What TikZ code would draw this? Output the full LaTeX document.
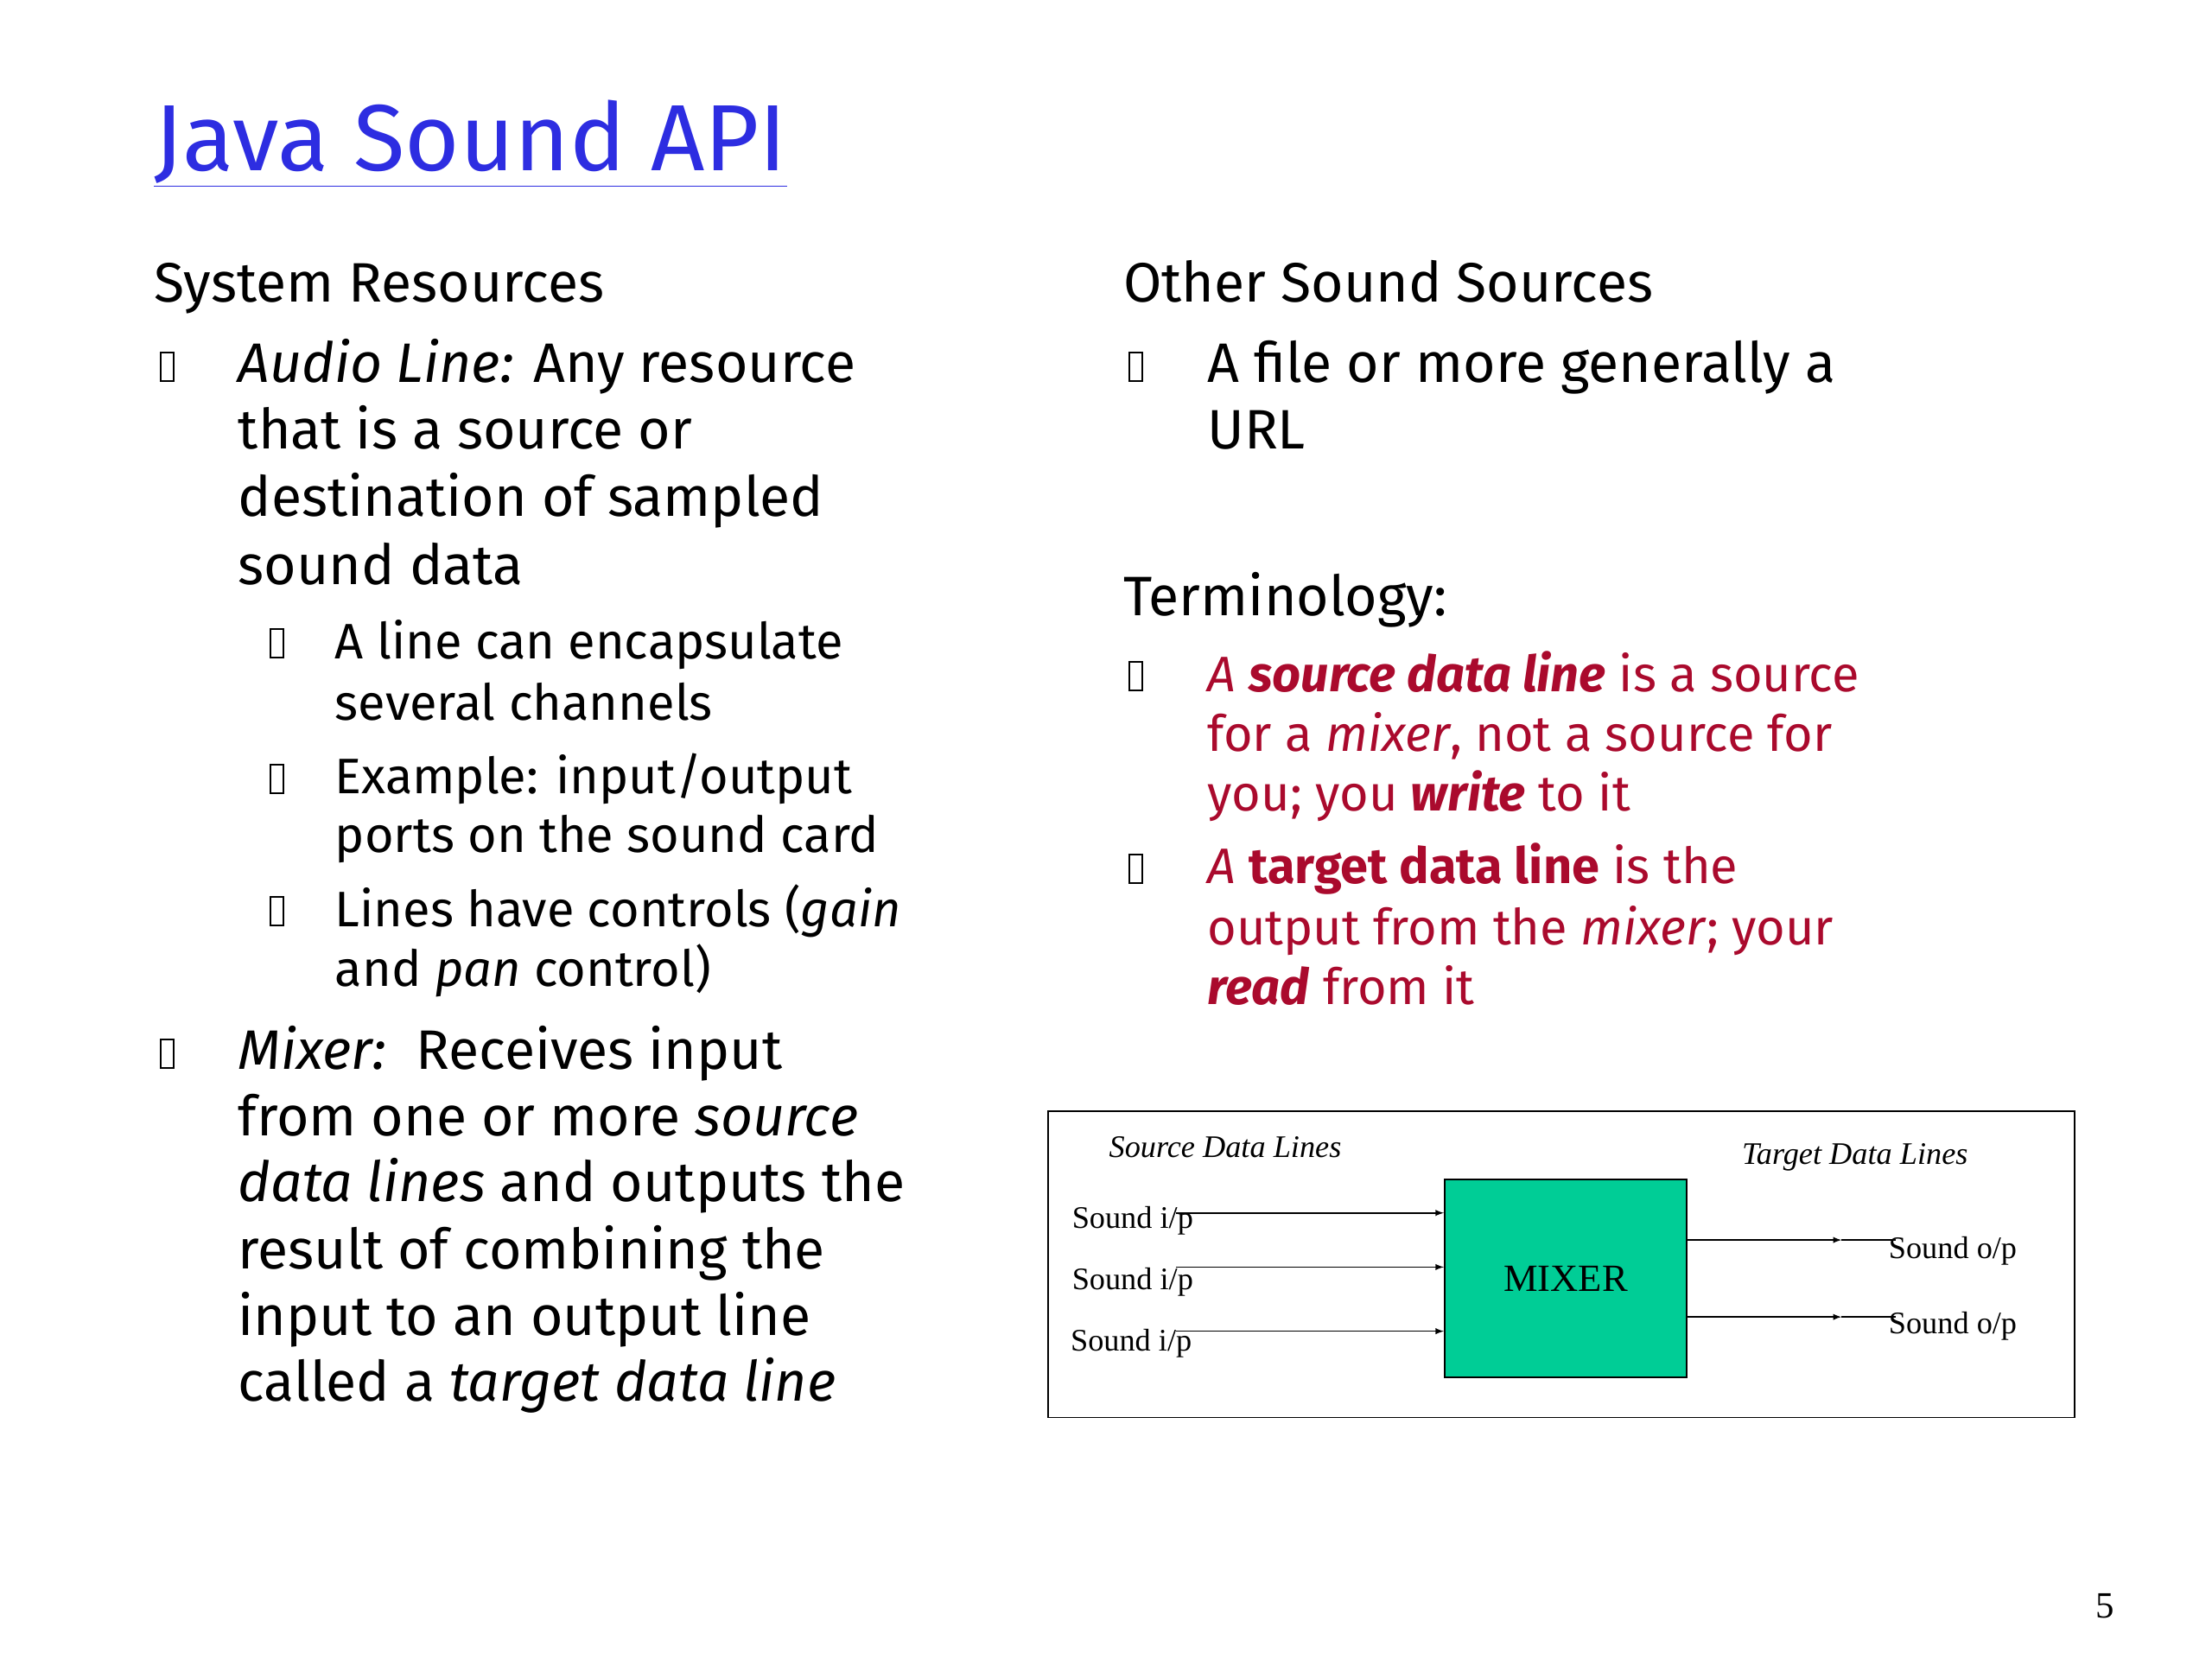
\documentclass[tikz,border=0pt]{standalone}
\usepackage{fontspec}
\setmainfont{Fira Sans}
\newfontfamily\serf{Liberation Serif}
\definecolor{ttl}{RGB}{45,45,225}
\definecolor{rd}{RGB}{170,10,45}
\definecolor{mix}{RGB}{0,205,150}
\begin{document}
\begin{tikzpicture}[x=1pt,y=-1pt,
  tx/.style={anchor=base west,inner sep=0pt,font=\fontsize{39}{46}\selectfont},
  sx/.style={anchor=base west,inner sep=0pt,font=\fontsize{35}{42}\selectfont},
  rx/.style={anchor=base west,inner sep=0pt,text=rd,font=\fontsize{35}{42}\selectfont},
  dl/.style={anchor=base west,inner sep=0pt,font=\serf\fontsize{22}{26}\selectfont},
  bul/.style={draw,line width=1.2pt,minimum width=9pt,minimum height=20pt,inner sep=0pt,anchor=south west},
  arr/.style={-latex,line width=1pt}]
\useasboundingbox (0,0) rectangle (1552,1164);
\node[anchor=base west,inner sep=0pt,text=ttl,font=\fontsize{66}{70}\selectfont] (title) at (108,120) {\underline{Java Sound API}};
% left column
\node[tx] (sr) at (108,212) {System Resources};
\node[bul] (b1) at (112,268) {};
\node[tx] (l1) at (167,268) {\textit{Audio Line:} Any resource};
\node[tx] (l2) at (167,315) {that is a source or};
\node[tx] (l3) at (167,362) {destination of sampled};
\node[tx] (l4) at (167,410) {sound data};
\node[bul] (s1) at (189,462) {};
\node[sx] (l5) at (235,462) {A line can encapsulate};
\node[sx] (l6) at (235,505) {several channels};
\node[bul] (s2) at (189,557) {};
\node[sx] (l7) at (235,557) {Example: input/output};
\node[sx] (l8) at (235,598) {ports on the sound card};
\node[bul] (s3) at (189,650) {};
\node[sx] (l9) at (235,650) {Lines have controls (\textit{gain}};
\node[sx] (l10) at (235,692) {and \textit{pan} control)};
\node[bul] (b2) at (112,750) {};
\node[tx] (m1) at (167,750) {\textit{Mixer:}\ \ Receives input};
\node[tx] (m2) at (167,797) {from one or more \textit{source}};
\node[tx] (m3) at (167,843) {\textit{data lines} and outputs the};
\node[tx] (m4) at (167,890) {result of combining the};
\node[tx] (m5) at (167,937) {input to an output line};
\node[tx] (m6) at (167,983) {called a \textit{target data line}};
% right column
\node[tx] (os) at (788,212) {Other Sound Sources};
\node[bul] (b3) at (792,268) {};
\node[tx] (o1) at (847,268) {A file or more generally a};
\node[tx] (o2) at (847,315) {URL};
\node[tx] (tm) at (788,432) {Terminology:};
\node[bul] (b4) at (792,485) {};
\node[rx] (r1) at (847,485) {\textit{A \textbf{source data line}} is a source};
\node[rx] (r2) at (847,527) {for a \textit{mixer}, not a source for};
\node[rx] (r3) at (847,569) {you; you \textbf{\textit{write}} to it};
\node[bul] (b5) at (792,620) {};
\node[rx] (r4) at (847,620) {\textit{A} \textbf{target data line} is the};
\node[rx] (r5) at (847,663) {output from the \textit{mixer}; your};
\node[rx] (r6) at (847,705) {\textbf{\textit{read}} from it};
% diagram
\node[draw,line width=1pt,minimum width=720pt,minimum height=215pt,anchor=north west,inner sep=0pt] (frame) at (735,779) {};
\node[draw,line width=1pt,fill=mix,minimum width=170pt,minimum height=139pt,anchor=north west,inner sep=0pt,font=\serf\fontsize{27}{30}\selectfont] (mixer) at (1013,827) {MIXER};
\node[dl] (sdl) at (778,812) {\textit{Source Data Lines}};
\node[dl] (tdl) at (1222,817) {\textit{Target Data Lines}};
\node[dl] (i1) at (752,862) {Sound i/p};
\node[dl] (i2) at (752,905) {Sound i/p};
\node[dl] (i3) at (751,948) {Sound i/p};
\coordinate (a1) at (825,851);
\coordinate (a2) at (825,889);
\coordinate (a3) at (825,934);
\draw[arr] (a1) -- (a1 -| mixer.west);
\draw[arr] (a2) -- (a2 -| mixer.west);
\draw[arr] (a3) -- (a3 -| mixer.west);
\node[dl] (o1p) at (1325,883) {Sound o/p};
\node[dl] (o2p) at (1325,936) {Sound o/p};
\coordinate (e1) at (1330,870);
\coordinate (e2) at (1330,924);
\coordinate (m1a) at (1292,870);
\coordinate (m2a) at (1292,924);
\draw[arr] (e1 -| mixer.east) -- (m1a);
\draw[line width=1pt] (m1a) -- (e1);
\draw[arr] (e2 -| mixer.east) -- (m2a);
\draw[line width=1pt] (m2a) -- (e2);
\node[anchor=base west,inner sep=0pt,font=\serf\fontsize{26}{30}\selectfont] (pg) at (1470,1135) {5};
\end{tikzpicture}
\end{document}
